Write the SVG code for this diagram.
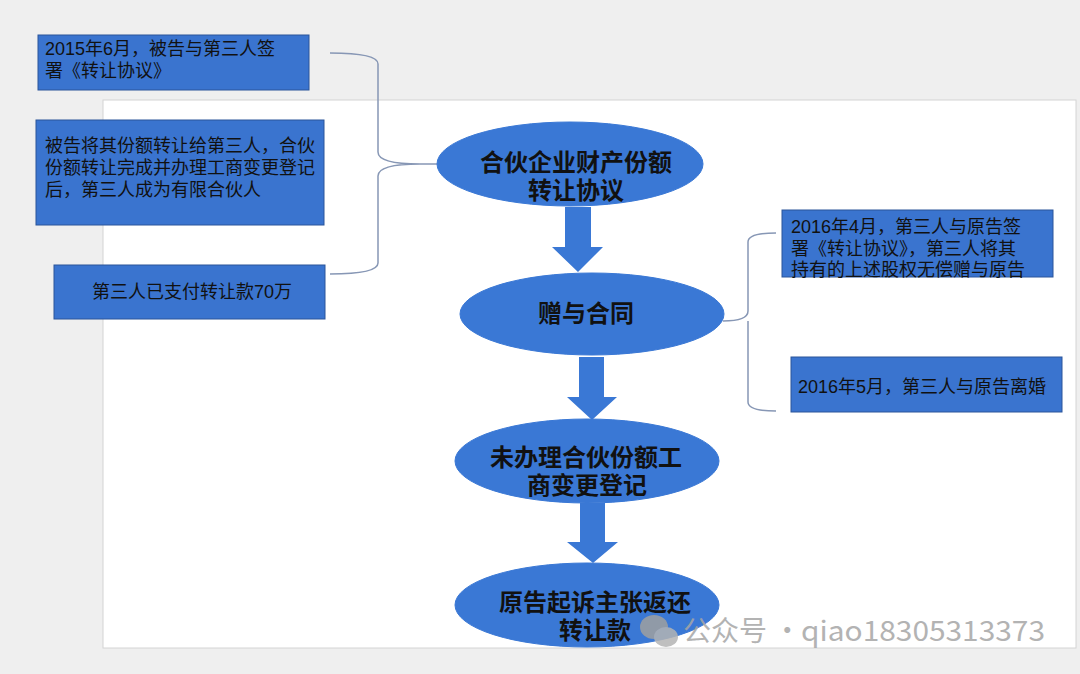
<svg xmlns="http://www.w3.org/2000/svg" width="1080" height="674" viewBox="0 0 1080 674">
<style>
.box{fill:#3a74cf;stroke:#2a559a;stroke-width:1}
.ell{fill:#3a78d5;stroke:#3a78d5;stroke-width:1}
.bt{font-family:"Liberation Sans","Noto Sans CJK SC",sans-serif;font-size:18px;fill:#111}
.et{font-family:"Liberation Serif","Noto Sans CJK SC",serif;font-size:24px;font-weight:bold;fill:#111;text-anchor:middle}
.brace{fill:none;stroke:#8797b5;stroke-width:1.5}
.arrow{fill:#3a78d5}
.wm{font-family:"Noto Sans CJK SC","Noto Sans",sans-serif;font-size:28px;fill:#a6a6a6}
</style>
<rect x="0" y="0" width="1080" height="674" fill="#efefef"/>
<rect x="103" y="100" width="973" height="548" fill="#ffffff" stroke="#d4d4d4" stroke-width="1"/>

<g id="connectors">
<path class="brace" d="M330,53 Q378,53 378,64 L378,152 Q378,164 420,164 L437,164 M420,164 Q378,164 378,176 L378,263 Q378,274 330,274"/>
<path class="brace" d="M776,233 Q748,233 748,242 L748,311 Q748,321 723,321 M748,321 Q748,321 748,331 L748,402 Q748,411 776,411"/>
<polygon class="arrow" points="565,207 591,207 591,247 603,247 578,272 552,247 565,247"/>
<polygon class="arrow" points="579,357 604,357 604,397 617,397 592,420 567,397 579,397"/>
<polygon class="arrow" points="580,503 605,503 605,542 618,542 593,563 567,542 580,542"/>
</g>

<g id="box1">
<rect class="box" x="38" y="35" width="271" height="55"/>
<text class="bt" x="45" y="55">2015年6月，被告与第三人签</text>
<text class="bt" x="45" y="77">署《转让协议》</text>
</g>
<g id="box2">
<rect class="box" x="36" y="120" width="288" height="105"/>
<text class="bt" x="45" y="152">被告将其份额转让给第三人，合伙</text>
<text class="bt" x="45" y="174">份额转让完成并办理工商变更登记</text>
<text class="bt" x="45" y="196">后，第三人成为有限合伙人</text>
</g>
<g id="box3">
<rect class="box" x="54" y="265" width="271" height="54"/>
<text class="bt" x="192" y="298" text-anchor="middle">第三人已支付转让款70万</text>
</g>
<g id="boxA">
<rect class="box" x="782" y="210" width="271" height="67"/>
<text class="bt" x="791" y="233">2016年4月，第三人与原告签</text>
<text class="bt" x="791" y="255">署《转让协议》，第三人将其</text>
<text class="bt" x="791" y="276">持有的上述股权无偿赠与原告</text>
</g>
<g id="boxB">
<rect class="box" x="791" y="357" width="271" height="55"/>
<text class="bt" x="798" y="393">2016年5月，第三人与原告离婚</text>
</g>

<g id="ellipse1">
<ellipse class="ell" cx="570" cy="164" rx="133" ry="42"/>
<text class="et" x="576" y="171">合伙企业财产份额</text>
<text class="et" x="576" y="199">转让协议</text>
</g>
<g id="ellipse2">
<ellipse class="ell" cx="592" cy="314" rx="132" ry="41"/>
<text class="et" x="586" y="322">赠与合同</text>
</g>
<g id="ellipse3">
<ellipse class="ell" cx="587" cy="461" rx="132" ry="42"/>
<text class="et" x="586" y="466">未办理合伙份额工</text>
<text class="et" x="587" y="494">商变更登记</text>
</g>
<g id="ellipse4">
<ellipse class="ell" cx="587" cy="605" rx="132" ry="42"/>
<text class="et" x="595" y="611">原告起诉主张返还</text>
<text class="et" x="595" y="639">转让款</text>
</g>

<g id="watermark" opacity="0.85">
<ellipse cx="654" cy="627" rx="14" ry="12" fill="#a0a0a0"/>
<ellipse cx="666" cy="637" rx="12" ry="10" fill="#b4b4b4"/>
<text class="wm" x="683" y="641">公众号 ·</text>
<text class="wm" x="801" y="641" textLength="244" lengthAdjust="spacingAndGlyphs">qiao18305313373</text>
</g>
</svg>
